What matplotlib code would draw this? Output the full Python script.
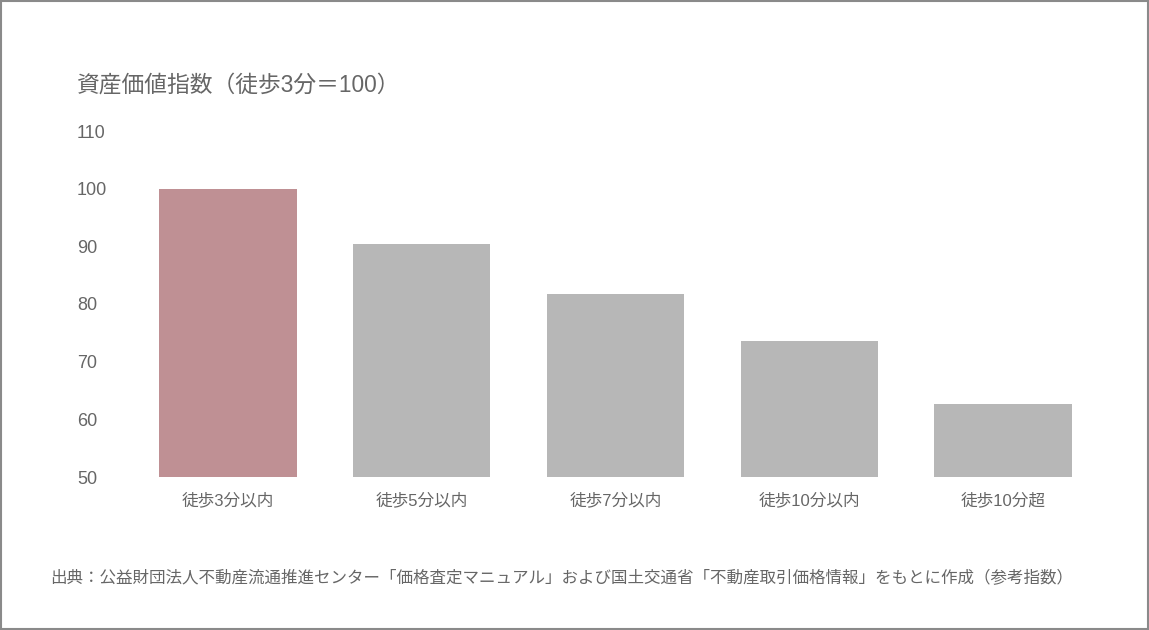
import matplotlib
matplotlib.use("Agg")
import matplotlib.pyplot as plt
from matplotlib.patches import Rectangle

# Latin digits from Liberation Sans, Japanese from Noto CJK
plt.rcParams['font.family'] = ['Liberation Sans', 'Noto Sans CJK JP', 'DejaVu Sans']

# data
categories = ['徒歩3分以内', '徒歩5分以内', '徒歩7分以内', '徒歩10分以内', '徒歩10分超']
values = [100, 90.4, 81.7, 73.6, 62.6]
colors = ['#bf9094', '#b7b7b7', '#b7b7b7', '#b7b7b7', '#b7b7b7']
yticks = [50, 60, 70, 80, 90, 100, 110]

title = '資産価値指数（徒歩3分＝100）'
source = '出典：公益財団法人不動産流通推進センター「価格査定マニュアル」および国土交通省「不動産取引価格情報」をもとに作成（参考指数）'

text_col = '#666666'

fig = plt.figure(figsize=(11.49, 6.3), dpi=100)
fig.patch.set_facecolor('white')
# axes box in pixel terms: left 131, right 1100, bottom 477, top 131
ax = fig.add_axes([131 / 1149, 1 - 477 / 630, (1100 - 131) / 1149, (477 - 131) / 630])

x = range(len(categories))
ax.bar(x, [v - 50 for v in values], bottom=50, width=0.71, color=colors)

ax.set_xlim(-0.5, len(categories) - 0.5)
ax.set_ylim(50, 110)
ax.set_yticks(yticks)
ax.set_yticklabels([str(t) for t in yticks], ha='left')
ax.set_xticks(list(x))
ax.set_xticklabels(categories)

ax.tick_params(axis='y', length=0, pad=39, labelsize=13, labelcolor=text_col)
ax.tick_params(axis='x', length=0, pad=11, labelsize=12, labelcolor=text_col)
for s in ax.spines.values():
    s.set_visible(False)

fig.text(77 / 1149, 1 - 85 / 630, title, fontsize=16.4, color=text_col,
         ha='left', va='center')
fig.text(50 / 1149, 1 - 578 / 630, source, fontsize=11.9, color=text_col,
         ha='left', va='center')

# outer frame
fig.patches.append(Rectangle((0.0008, 0.0015), 0.9984, 0.997, transform=fig.transFigure,
                             fill=False, edgecolor='#8a8a8a', linewidth=1.5))

fig.savefig('out.png', dpi=100)
